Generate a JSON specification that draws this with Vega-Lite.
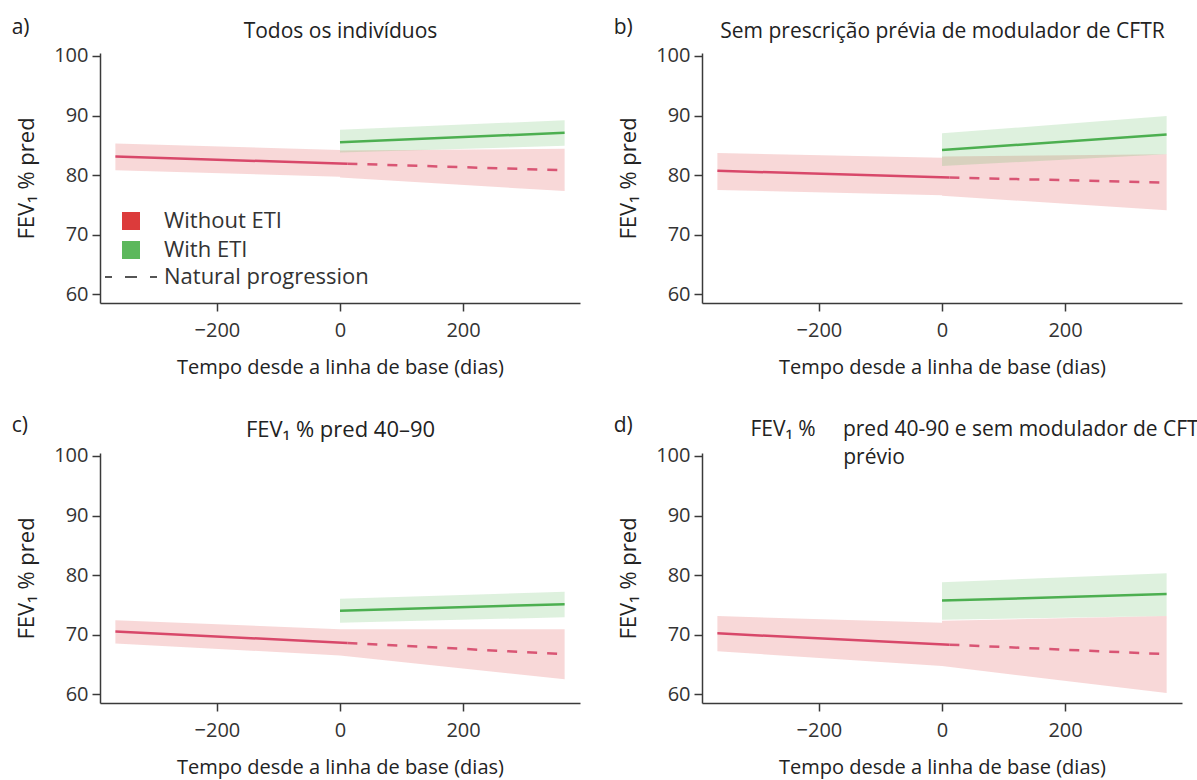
{
  "$schema": "https://vega.github.io/schema/vega-lite/v6.json",
  "padding": {"left": 11, "top": 17, "right": 0, "bottom": 2},
  "background": "white",
  "datasets": {
    "bands": [
      {"panel": "a", "seg": "pre", "grp": "Without ETI", "t": -365, "v": 80.8, "v2": 85.3},
      {"panel": "a", "seg": "pre", "grp": "Without ETI", "t": 0, "v": 79.7, "v2": 84.2},
      {"panel": "a", "seg": "nat", "grp": "Without ETI", "t": 0, "v": 79.6, "v2": 84.1},
      {"panel": "a", "seg": "nat", "grp": "Without ETI", "t": 365, "v": 77.3, "v2": 84.4},
      {"panel": "a", "seg": "eti", "grp": "With ETI", "t": 0, "v": 83.8, "v2": 87.6},
      {"panel": "a", "seg": "eti", "grp": "With ETI", "t": 365, "v": 84.9, "v2": 89.2},
      {"panel": "b", "seg": "pre", "grp": "Without ETI", "t": -365, "v": 77.5, "v2": 83.7},
      {"panel": "b", "seg": "pre", "grp": "Without ETI", "t": 0, "v": 76.6, "v2": 82.9},
      {"panel": "b", "seg": "nat", "grp": "Without ETI", "t": 0, "v": 76.5, "v2": 83.1},
      {"panel": "b", "seg": "nat", "grp": "Without ETI", "t": 365, "v": 74.1, "v2": 83.5},
      {"panel": "b", "seg": "eti", "grp": "With ETI", "t": 0, "v": 81.5, "v2": 87.0},
      {"panel": "b", "seg": "eti", "grp": "With ETI", "t": 365, "v": 83.5, "v2": 89.9},
      {"panel": "c", "seg": "pre", "grp": "Without ETI", "t": -365, "v": 68.5, "v2": 72.4},
      {"panel": "c", "seg": "pre", "grp": "Without ETI", "t": 0, "v": 66.5, "v2": 70.9},
      {"panel": "c", "seg": "nat", "grp": "Without ETI", "t": 0, "v": 66.5, "v2": 70.9},
      {"panel": "c", "seg": "nat", "grp": "Without ETI", "t": 365, "v": 62.5, "v2": 70.9},
      {"panel": "c", "seg": "eti", "grp": "With ETI", "t": 0, "v": 72.0, "v2": 76.0},
      {"panel": "c", "seg": "eti", "grp": "With ETI", "t": 365, "v": 72.9, "v2": 77.2},
      {"panel": "d", "seg": "pre", "grp": "Without ETI", "t": -365, "v": 67.2, "v2": 73.1},
      {"panel": "d", "seg": "pre", "grp": "Without ETI", "t": 0, "v": 64.7, "v2": 72.0},
      {"panel": "d", "seg": "nat", "grp": "Without ETI", "t": 0, "v": 64.7, "v2": 72.3},
      {"panel": "d", "seg": "nat", "grp": "Without ETI", "t": 365, "v": 60.2, "v2": 73.1},
      {"panel": "d", "seg": "eti", "grp": "With ETI", "t": 0, "v": 72.5, "v2": 78.8},
      {"panel": "d", "seg": "eti", "grp": "With ETI", "t": 365, "v": 73.1, "v2": 80.3}
    ],
    "lines": [
      {"panel": "a", "seg": "pre", "t": -365, "v": 83.1},
      {"panel": "a", "seg": "pre", "t": 12, "v": 81.9},
      {"panel": "a", "seg": "nat", "t": 12, "v": 81.9},
      {"panel": "a", "seg": "nat", "t": 365, "v": 80.8},
      {"panel": "a", "seg": "eti", "t": 0, "v": 85.5},
      {"panel": "a", "seg": "eti", "t": 365, "v": 87.1},
      {"panel": "b", "seg": "pre", "t": -365, "v": 80.7},
      {"panel": "b", "seg": "pre", "t": 12, "v": 79.6},
      {"panel": "b", "seg": "nat", "t": 12, "v": 79.6},
      {"panel": "b", "seg": "nat", "t": 365, "v": 78.7},
      {"panel": "b", "seg": "eti", "t": 0, "v": 84.2},
      {"panel": "b", "seg": "eti", "t": 365, "v": 86.8},
      {"panel": "c", "seg": "pre", "t": -365, "v": 70.5},
      {"panel": "c", "seg": "pre", "t": 12, "v": 68.6},
      {"panel": "c", "seg": "nat", "t": 12, "v": 68.6},
      {"panel": "c", "seg": "nat", "t": 365, "v": 66.7},
      {"panel": "c", "seg": "eti", "t": 0, "v": 74.0},
      {"panel": "c", "seg": "eti", "t": 365, "v": 75.1},
      {"panel": "d", "seg": "pre", "t": -365, "v": 70.2},
      {"panel": "d", "seg": "pre", "t": 12, "v": 68.3},
      {"panel": "d", "seg": "nat", "t": 12, "v": 68.3},
      {"panel": "d", "seg": "nat", "t": 365, "v": 66.7},
      {"panel": "d", "seg": "eti", "t": 0, "v": 75.7},
      {"panel": "d", "seg": "eti", "t": 365, "v": 76.8}
    ]
  },
  "columns": 2,
  "spacing": {"row": 150, "column": 122},
  "bounds": "flush",
  "resolve": {"scale": {"color": "independent"}},
  "concat": [
    {
      "title": {"text": "a)", "offset": -18, "dx": -4},
      "width": 480, "height": 250,
      "encoding": {
        "x": {"field": "t", "type": "quantitative", "scale": {"domain": [-390, 390]}, "axis": null},
        "y": {"field": "v", "type": "quantitative", "scale": {"domain": [58.5, 100.5], "nice": false, "zero": false}, "axis": {"values": [60, 70, 80, 90, 100], "title": "FEV₁ % pred"}}
      },
      "layer": [
        {"data": {"name": "bands"}, "transform": [{"filter": "datum.panel === 'a'"}],
          "mark": {"type": "area", "opacity": 0.2},
          "encoding": {
            "x": {"field": "t", "type": "quantitative", "scale": {"domain": [-390, 390]}, "axis": {"values": [-200, 0, 200], "title": "Tempo desde a linha de base (dias)"}},
            "y2": {"field": "v2"},
            "color": {"field": "grp", "type": "nominal",
              "scale": {"domain": ["Without ETI", "With ETI", "Natural progression"], "range": ["#dc3b3b", "#5cb85c", "#666666"]},
              "legend": {"title": null, "orient": "none", "legendX": 20, "legendY": 157, "symbolSize": 324, "symbolType": "square", "symbolOpacity": 1, "symbolStrokeWidth": 0, "labelFontSize": 22, "labelColor": "#333333", "labelFont": "Open Sans", "labelOffset": 22, "labelLimit": 400, "rowPadding": 3, "padding": 0,
                "encode": {"symbols": {"update": {
                  "shape": {"signal": "datum.value === 'Natural progression' ? 'stroke' : 'square'"},
                  "size": {"signal": "datum.value === 'Natural progression' ? 2704 : 324"},
                  "stroke": {"signal": "datum.value === 'Natural progression' ? '#555555' : 'transparent'"},
                  "strokeWidth": {"value": 2},
                  "strokeDash": {"signal": "datum.value === 'Natural progression' ? [12, 13] : [1, 0]"},
                  "strokeDashOffset": {"value": 5},
                  "opacity": {"value": 1}
                }}}
              }},
            "detail": {"field": "seg"}
          }},
        {"data": {"name": "lines"}, "transform": [{"filter": "datum.panel === 'a' && datum.seg === 'pre'"}],
          "mark": {"type": "line", "color": "#d8486a", "strokeWidth": 2.5}, "encoding": {}},
        {"data": {"name": "lines"}, "transform": [{"filter": "datum.panel === 'a' && datum.seg === 'nat'"}],
          "mark": {"type": "line", "color": "#d95574", "strokeWidth": 2.5, "strokeDash": [10, 10]}, "encoding": {}},
        {"data": {"name": "lines"}, "transform": [{"filter": "datum.panel === 'a' && datum.seg === 'eti'"}],
          "mark": {"type": "line", "color": "#4caf50", "strokeWidth": 2.5},
          "encoding": {"x": {"field": "t", "type": "quantitative", "scale": {"domain": [-390, 390]}, "axis": {"orient": "top", "labels": false, "ticks": false, "domain": false, "title": "Todos os indivíduos", "titlePadding": 12}}}}
      ],
      "resolve": {"axis": {"x": "independent"}}
    },
    {
      "title": {"text": "b)", "offset": -18, "dx": -4},
      "width": 480, "height": 250,
      "encoding": {
        "x": {"field": "t", "type": "quantitative", "scale": {"domain": [-390, 390]}, "axis": null},
        "y": {"field": "v", "type": "quantitative", "scale": {"domain": [58.5, 100.5], "nice": false, "zero": false}, "axis": {"values": [60, 70, 80, 90, 100], "title": "FEV₁ % pred"}}
      },
      "layer": [
        {"data": {"name": "bands"}, "transform": [{"filter": "datum.panel === 'b'"}],
          "mark": {"type": "area", "opacity": 0.2},
          "encoding": {
            "x": {"field": "t", "type": "quantitative", "scale": {"domain": [-390, 390]}, "axis": {"values": [-200, 0, 200], "title": "Tempo desde a linha de base (dias)"}},
            "y2": {"field": "v2"},
            "color": {"field": "grp", "type": "nominal", "scale": {"domain": ["Without ETI", "With ETI", "Natural progression"], "range": ["#dc3b3b", "#5cb85c", "#666666"]}, "legend": null},
            "detail": {"field": "seg"}
          }},
        {"data": {"name": "lines"}, "transform": [{"filter": "datum.panel === 'b' && datum.seg === 'pre'"}],
          "mark": {"type": "line", "color": "#d8486a", "strokeWidth": 2.5}, "encoding": {}},
        {"data": {"name": "lines"}, "transform": [{"filter": "datum.panel === 'b' && datum.seg === 'nat'"}],
          "mark": {"type": "line", "color": "#d95574", "strokeWidth": 2.5, "strokeDash": [10, 10]}, "encoding": {}},
        {"data": {"name": "lines"}, "transform": [{"filter": "datum.panel === 'b' && datum.seg === 'eti'"}],
          "mark": {"type": "line", "color": "#4caf50", "strokeWidth": 2.5},
          "encoding": {"x": {"field": "t", "type": "quantitative", "scale": {"domain": [-390, 390]}, "axis": {"orient": "top", "labels": false, "ticks": false, "domain": false, "title": "Sem prescrição prévia de modulador de CFTR", "titlePadding": 12}}}}
      ],
      "resolve": {"axis": {"x": "independent"}}
    },
    {
      "title": {"text": "c)", "offset": -18, "dx": -4},
      "width": 480, "height": 250,
      "encoding": {
        "x": {"field": "t", "type": "quantitative", "scale": {"domain": [-390, 390]}, "axis": null},
        "y": {"field": "v", "type": "quantitative", "scale": {"domain": [58.5, 100.5], "nice": false, "zero": false}, "axis": {"values": [60, 70, 80, 90, 100], "title": "FEV₁ % pred"}}
      },
      "layer": [
        {"data": {"name": "bands"}, "transform": [{"filter": "datum.panel === 'c'"}],
          "mark": {"type": "area", "opacity": 0.2},
          "encoding": {
            "x": {"field": "t", "type": "quantitative", "scale": {"domain": [-390, 390]}, "axis": {"values": [-200, 0, 200], "title": "Tempo desde a linha de base (dias)"}},
            "y2": {"field": "v2"},
            "color": {"field": "grp", "type": "nominal", "scale": {"domain": ["Without ETI", "With ETI", "Natural progression"], "range": ["#dc3b3b", "#5cb85c", "#666666"]}, "legend": null},
            "detail": {"field": "seg"}
          }},
        {"data": {"name": "lines"}, "transform": [{"filter": "datum.panel === 'c' && datum.seg === 'pre'"}],
          "mark": {"type": "line", "color": "#d8486a", "strokeWidth": 2.5}, "encoding": {}},
        {"data": {"name": "lines"}, "transform": [{"filter": "datum.panel === 'c' && datum.seg === 'nat'"}],
          "mark": {"type": "line", "color": "#d95574", "strokeWidth": 2.5, "strokeDash": [10, 10]}, "encoding": {}},
        {"data": {"name": "lines"}, "transform": [{"filter": "datum.panel === 'c' && datum.seg === 'eti'"}],
          "mark": {"type": "line", "color": "#4caf50", "strokeWidth": 2.5},
          "encoding": {"x": {"field": "t", "type": "quantitative", "scale": {"domain": [-390, 390]}, "axis": {"orient": "top", "labels": false, "ticks": false, "domain": false, "title": "FEV₁ % pred 40–90", "titlePadding": 12, "titleFontSize": 22}}}}
      ],
      "resolve": {"axis": {"x": "independent"}}
    },
    {
      "title": {"text": "d)", "offset": -18, "dx": -4},
      "width": 480, "height": 250,
      "encoding": {
        "x": {"field": "t", "type": "quantitative", "scale": {"domain": [-390, 390]}, "axis": null},
        "y": {"field": "v", "type": "quantitative", "scale": {"domain": [58.5, 100.5], "nice": false, "zero": false}, "axis": {"values": [60, 70, 80, 90, 100], "title": "FEV₁ % pred"}}
      },
      "layer": [
        {"data": {"name": "bands"}, "transform": [{"filter": "datum.panel === 'd'"}],
          "mark": {"type": "area", "opacity": 0.2},
          "encoding": {
            "x": {"field": "t", "type": "quantitative", "scale": {"domain": [-390, 390]}, "axis": {"values": [-200, 0, 200], "title": "Tempo desde a linha de base (dias)"}},
            "y2": {"field": "v2"},
            "color": {"field": "grp", "type": "nominal", "scale": {"domain": ["Without ETI", "With ETI", "Natural progression"], "range": ["#dc3b3b", "#5cb85c", "#666666"]}, "legend": null},
            "detail": {"field": "seg"}
          }},
        {"data": {"name": "lines"}, "transform": [{"filter": "datum.panel === 'd' && datum.seg === 'pre'"}],
          "mark": {"type": "line", "color": "#d8486a", "strokeWidth": 2.5}, "encoding": {}},
        {"data": {"name": "lines"}, "transform": [{"filter": "datum.panel === 'd' && datum.seg === 'nat'"}],
          "mark": {"type": "line", "color": "#d95574", "strokeWidth": 2.5, "strokeDash": [10, 10]}, "encoding": {}},
        {"data": {"name": "lines"}, "transform": [{"filter": "datum.panel === 'd' && datum.seg === 'eti'"}],
          "mark": {"type": "line", "color": "#4caf50", "strokeWidth": 2.5},
          "encoding": {"x": {"field": "t", "type": "quantitative", "scale": {"domain": [-390, 390]}, "axis": {"orient": "top", "labels": false, "ticks": false, "domain": false,
            "title": ["FEV₁\u00a0%\u00a0\u00a0\u00a0\u00a0\u00a0pred 40-90 e sem modulador de CFTR", "\u200b\u00a0\u00a0\u00a0\u00a0\u00a0\u00a0\u00a0\u00a0\u00a0\u00a0\u00a0\u00a0\u00a0\u00a0\u00a0\u00a0\u00a0prévio"],
            "titleAnchor": "start", "titleAlign": "left", "titleX": 48, "titleY": -18, "titleBaseline": "alphabetic", "titleLineHeight": 28, "titleLimit": 1000}}}}
      ],
      "resolve": {"axis": {"x": "independent"}}
    }
  ],
  "config": {
    "font": "Open Sans",
    "view": {"stroke": null},
    "axis": {"grid": false, "domainColor": "#3a3a3a", "domainWidth": 1.5, "tickColor": "#3a3a3a", "tickWidth": 1.5, "tickSize": 8, "labelFontSize": 20, "labelColor": "#333333", "labelFont": "Open Sans", "titleFont": "Open Sans", "titleFontWeight": "normal", "titleColor": "#222222", "titleFontSize": 20},
    "axisY": {"labelPadding": 4, "titlePadding": 15, "titleFontSize": 22},
    "axisX": {"labelPadding": 9, "titlePadding": 17},
    "axisTop": {"titleFontSize": 21},
    "title": {"anchor": "start", "frame": "bounds", "fontSize": 21, "fontWeight": "normal", "color": "#222222", "font": "Open Sans"}
  }
}
